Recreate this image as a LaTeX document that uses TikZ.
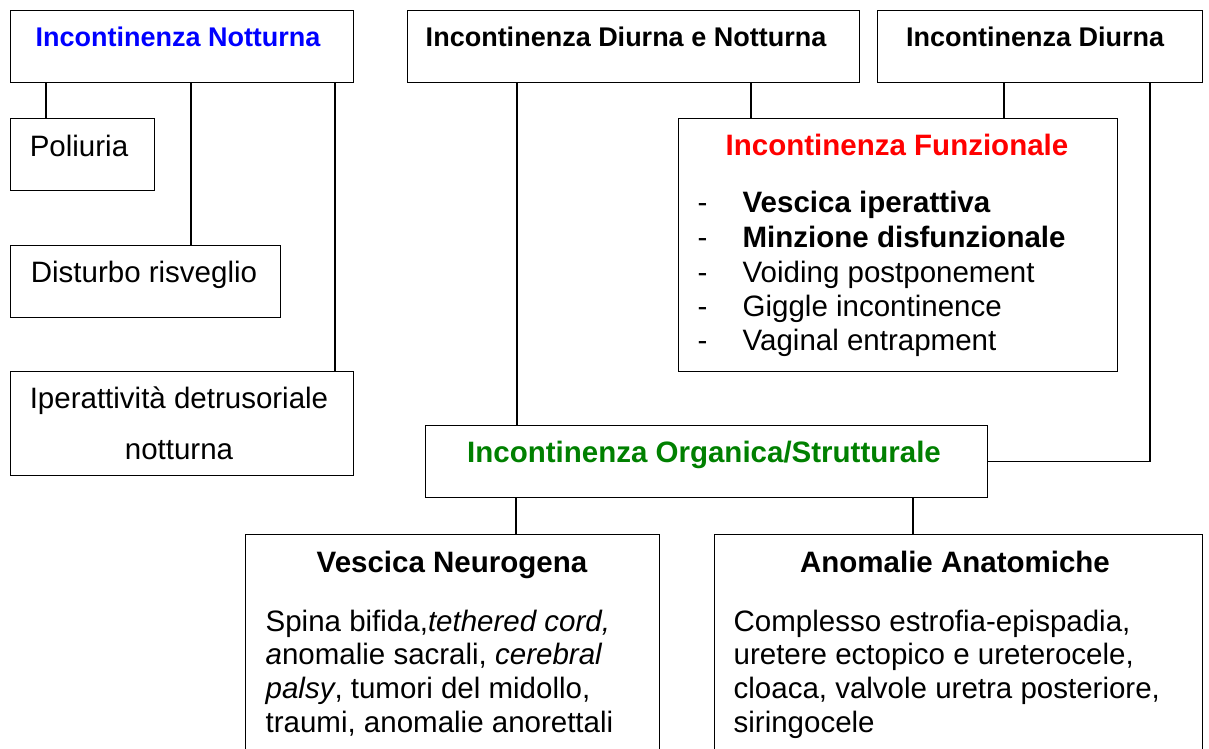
\documentclass[tikz,border=0pt]{standalone}
\usepackage{fontspec}
\setmainfont{Liberation Sans}
\usetikzlibrary{positioning}
\definecolor{nottblue}{RGB}{0,0,255}
\definecolor{funzred}{RGB}{255,0,0}
\definecolor{orggreen}{RGB}{0,128,0}

\begin{document}
\begin{tikzpicture}[x=1pt, y=-1pt, line width=1.3pt,
  box/.style 2 args={draw, rectangle, anchor=north west, inner sep=0pt,
    minimum width=#1pt, minimum height=#2pt},
  headsm/.style={font=\fontsize{27}{32}\selectfont\bfseries, anchor=base, inner sep=0pt},
  head/.style={font=\fontsize{29.5}{34}\selectfont\bfseries, anchor=base, inner sep=0pt},
  body/.style={font=\fontsize{29.5}{34}\selectfont, inner sep=0pt}]
\clip (0,0) rectangle (1209,748);
% top row
\node[box={343}{72}] (notn) at (10,10) {};
\node[box={452}{72}] (dn) at (407,10) {};
\node[box={325}{72}] (diu) at (877,10) {};
\node[headsm, nottblue] (notn-t) at (178,46) {Incontinenza Notturna};
\node[headsm] (dn-t) at (626,46) {Incontinenza Diurna e Notturna};
\node[headsm] (diu-t) at (1035,46) {Incontinenza Diurna};
% notturna branch
\node[box={144}{72}] (pol) at (10,118) {};
\node[box={270}{72}] (dist) at (10,245) {};
\node[box={343}{104}] (iper) at (10,371) {};
\node[body, anchor=base] (pol-t) at (79,156) {Poliuria};
\node[body, anchor=base] (dist-t) at (144,282) {Disturbo risveglio};
\node[body, anchor=base] (iper-t1) at (179,408) {Iperattività detrusoriale};
\node[body, anchor=base] (iper-t2) at (179,459) {notturna};
% funzionale
\node[box={439}{253}] (fun) at (678,118) {};
\node[head, funzred] (fun-t) at (897,155) {Incontinenza Funzionale};
\foreach \y/\entry [count=\k] in {212/\textbf{Vescica iperattiva},
    247/\textbf{Minzione disfunzionale}, 282/Voiding postponement,
    316/Giggle incontinence, 350/Vaginal entrapment}
  \node[body, anchor=base west] (fun-\k) at (697,\y) {\makebox[45pt][l]{-}\entry};
% organica
\node[box={562}{72}] (org) at (425,425) {};
\node[head, orggreen] (org-t) at (704,462) {Incontinenza Organica/Strutturale};
\node[box={414}{240}] (neu) at (245,534) {};
\node[box={488}{240}] (ana) at (714,534) {};
\node[head] (neu-t) at (452,572) {Vescica Neurogena};
\node[head] (ana-t) at (955,572) {Anomalie Anatomiche};
\node[body, anchor=base west, align=left] (neu-b) at (265,732)
  {Spina bifida,\textit{tethered cord,}\\[-0.4pt]\textit{a}nomalie sacrali, \textit{cerebral}\\[-0.4pt]%
   \textit{palsy}, tumori del midollo,\\[-0.4pt]traumi, anomalie anorettali};
\node[body, anchor=base west, align=left] (ana-b) at (733,732)
  {Complesso estrofia-epispadia,\\[-0.4pt]uretere ectopico e ureterocele,\\[-0.4pt]%
   cloaca, valvole uretra posteriore,\\[-0.4pt]siringocele};
% connectors
\draw (notn.south -| 46,0) -- (pol.north -| 46,0);
\draw (notn.south -| 191,0) -- (dist.north -| 191,0);
\draw (notn.south -| 335,0) -- (iper.north -| 335,0);
\draw (dn.south -| 517,0) -- (org.north -| 517,0);
\draw (dn.south -| 751,0) -- (fun.north -| 751,0);
\draw (diu.south -| 1004,0) -- (fun.north -| 1004,0);
\draw (diu.south -| 1150,0) |- (org.east);
\draw (org.south -| 516,0) -- (neu.north -| 516,0);
\draw (org.south -| 913,0) -- (ana.north -| 913,0);
\end{tikzpicture}
\end{document}
